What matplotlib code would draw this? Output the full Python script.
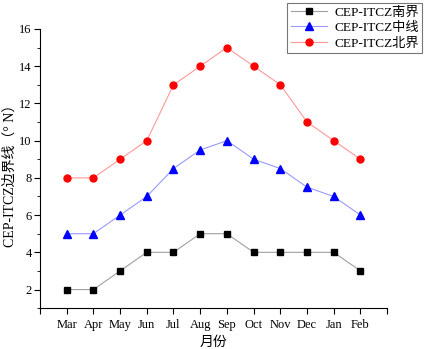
import matplotlib
matplotlib.use("Agg")
import matplotlib.pyplot as plt
from matplotlib.ticker import MultipleLocator

months = ["Mar", "Apr", "May", "Jun", "Jul", "Aug", "Sep", "Oct", "Nov", "Dec", "Jan", "Feb"]
south = [2, 2, 3, 4, 4, 5, 5, 4, 4, 4, 4, 3]
middle = [5, 5, 6, 7, 8.5, 9.5, 10, 9, 8.5, 7.5, 7, 6]
north = [8, 8, 9, 10, 13, 14, 15, 14, 13, 11, 10, 9]

fam = ['Liberation Serif', 'Noto Sans CJK SC', 'DejaVu Sans']
plt.rcParams['font.family'] = fam

fig = plt.figure(figsize=(4.25, 3.49), dpi=100)
ax = fig.add_axes([0.094, 0.117, 0.817, 0.8])
x = list(range(len(months)))
ax.plot(x, south, color='#a0a0a0', lw=0.8, marker='s', ms=4.5, mfc='black', mec='black', label='CEP-ITCZ南界')
ax.plot(x, middle, color='#9999ff', lw=0.8, marker='^', ms=5.5, mfc='blue', mec='blue', label='CEP-ITCZ中线')
ax.plot(x, north, color='#ff9999', lw=0.8, marker='o', ms=5, mfc='red', mec='red', label='CEP-ITCZ北界')

ax.set_xlim(-1, 12)
ax.set_ylim(1, 16)
ax.set_xticks(range(-1, 13))
ax.set_xticklabels([''] + months + [''], fontsize=9)
ax.yaxis.set_minor_locator(MultipleLocator(1))
ax.set_yticks([2, 4, 6, 8, 10, 12, 14, 16])
ax.tick_params(axis='y', labelsize=9, direction='out', length=4, pad=2)
ax.tick_params(axis='x', direction='out', length=4, pad=4)
ax.tick_params(which='minor', length=2)
for s in ['top', 'right']:
    ax.spines[s].set_visible(False)
ax.set_xlabel('月份', fontsize=10, labelpad=3)
ax.set_ylabel('CEP-ITCZ边界线（° N）', fontsize=10)
ax.yaxis.set_label_coords(-0.068, 0.485)
leg = ax.legend(loc='upper right', bbox_to_anchor=(422 / 425, 1 - 3 / 349),
                bbox_transform=fig.transFigure, borderaxespad=0, fontsize=9.5,
                frameon=True, fancybox=False, edgecolor='#555555', handlelength=2.8,
                borderpad=0.25, labelspacing=0.25, handletextpad=0.5)
leg.get_frame().set_linewidth(0.8)
fig.savefig('out.png', dpi=100)
